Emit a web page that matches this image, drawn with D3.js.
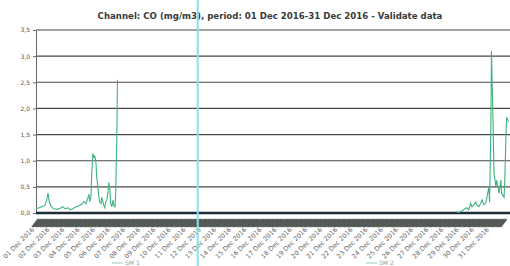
<!DOCTYPE html>
<html>
<head>
<meta charset="utf-8">
<script src="https://cdn.jsdelivr.net/npm/d3@7"></script>
<style>
  body { margin: 0; background: #fff; }
  svg { display: block; font-family: "DejaVu Sans", Verdana, sans-serif; }
</style>
</head>
<body>
<div id="chart"></div>
<script>
// chart values
var title = "Channel: CO (mg/m3), period: 01 Dec 2016-31 Dec 2016 - Validate data";
var yTicks = [0, 0.5, 1, 1.5, 2, 2.5, 3, 3.5];
var yTickLabels = ["0,0", "0,5", "1,0", "1,5", "2,0", "2,5", "3,0", "3,5"];
var seriesNames = ["SM 1", "SM 2"];

// hours since 01 Dec 2016 00:00
var sm1Hours = [0, 5, 9, 14, 17, 19, 21, 24, 28, 33, 38, 43, 46, 51, 54, 58, 63, 68, 73, 76, 79, 82, 84, 85, 87, 88, 90, 92, 93, 95, 96, 98, 99, 101, 103, 104, 106, 107, 109, 110, 112, 114, 115, 117, 118, 120, 122, 123, 125, 126, 128, 129];
var sm1Values = [0.08, 0.1, 0.12, 0.14, 0.25, 0.38, 0.22, 0.12, 0.08, 0.07, 0.09, 0.12, 0.08, 0.1, 0.06, 0.08, 0.12, 0.14, 0.17, 0.22, 0.18, 0.28, 0.36, 0.22, 0.3, 0.7, 1.14, 1.05, 1.1, 0.95, 0.7, 0.5, 0.35, 0.2, 0.18, 0.3, 0.22, 0.15, 0.1, 0.2, 0.25, 0.4, 0.58, 0.45, 0.2, 0.12, 0.25, 0.15, 0.12, 0.3, 1.5, 2.55];

var sm2Hours = [666, 669, 674, 679, 682, 685, 688, 690, 693, 696, 698, 701, 704, 706, 709, 712, 714, 717, 718, 720, 721, 723, 725, 728, 729, 733, 736, 737, 741, 742, 744, 745, 748];
var sm2Values = [0.02, 0.01, 0.04, 0.08, 0.1, 0.06, 0.19, 0.12, 0.15, 0.21, 0.15, 0.12, 0.19, 0.25, 0.16, 0.19, 0.31, 0.5, 0.2, 1.6, 3.1, 2.0, 0.76, 0.5, 0.63, 0.38, 0.63, 0.38, 0.3, 0.6, 1.5, 1.83, 1.75];

// cyan scan line, hours since start
var markerHour = 256;

window.onload = function() {
    drawchart();
};

function drawchart() {
    var width = 510;
    var height = 266;
    var padding = {top: 30, bottom: 53, left: 36, right: 4};
    var start = Date.UTC(2016, 11, 1);
    var end = Date.UTC(2017, 0, 1);

    function hourdate(h) {
        return new Date(start + h * 3600 * 1000);
    }

    var xscale = d3.scaleUtc()
        .domain([new Date(start), new Date(end)])
        .range([padding.left, width - padding.right]);

    var yscale = d3.scaleLinear()
        .domain([0, 3.5])
        .range([height - padding.bottom, padding.top]);

    var svg = d3.select("#chart").append("svg")
        .attr("width", width).attr("height", height);

    // title
    svg.append("text")
        .text(title)
        .attr("x", 270).attr("y", 19)
        .attr("text-anchor", "middle")
        .style("font-size", "8.6px")
        .style("font-weight", "bold")
        .style("fill", "#3a3a3a");

    // grid lines
    svg.selectAll(".grid").data(yTicks.slice(1)).enter().append("line")
        .attr("class", "grid")
        .attr("x1", padding.left).attr("x2", width)
        .attr("y1", function(d) { return yscale(d); })
        .attr("y2", function(d) { return yscale(d); })
        .style("stroke", "#484848")
        .style("stroke-width", 1.15);

    // y axis
    var yaxis = d3.axisLeft(yscale)
        .tickValues(yTicks)
        .tickSize(3)
        .tickFormat(function(d, i) { return yTickLabels[i]; });
    var yg = svg.append("g")
        .attr("transform", "translate(" + padding.left + ",0)")
        .call(yaxis);
    yg.select(".domain").style("stroke", "#666");
    yg.selectAll(".tick line").style("stroke", "#666");
    yg.selectAll(".tick text")
        .style("font-size", "6px")
        .style("fill", "#555")
        .style("font-family", "DejaVu Sans, sans-serif");

    // dense hour ticks under the axis (dark band)
    var hours = d3.utcHour.every(2).range(new Date(start), new Date(end));
    svg.append("g").selectAll("line").data(hours).enter().append("line")
        .attr("x1", function(d) { return xscale(d) + 2; })
        .attr("x2", function(d) { return xscale(d) - 4; })
        .attr("y1", height - padding.bottom + 6)
        .attr("y2", height - padding.bottom + 14)
        .style("stroke", "#2e3530")
        .style("stroke-width", 1.3)
        .style("opacity", 0.75);

    // x axis with day labels
    var days = d3.utcDay.range(new Date(start), new Date(end));
    var xaxis = d3.axisBottom(xscale)
        .tickValues(days)
        .tickSize(0)
        .tickFormat(d3.utcFormat("%d %b %Y"));
    var xg = svg.append("g")
        .attr("transform", "translate(0," + (height - padding.bottom) + ")")
        .call(xaxis);
    xg.select(".domain").remove();
    xg.selectAll(".tick text")
        .attr("text-anchor", "end")
        .attr("dx", 0).attr("dy", 0)
        .attr("transform", "translate(-4,15) rotate(-45)")
        .style("font-size", "6.4px")
        .style("fill", "#666")
        .style("font-family", "DejaVu Sans, sans-serif");

    // zero line
    svg.append("line")
        .attr("x1", padding.left).attr("x2", width)
        .attr("y1", yscale(0)).attr("y2", yscale(0))
        .style("stroke", "#1d2a38")
        .style("stroke-width", 2.3);

    // series lines
    var line = d3.line()
        .x(function(d) { return xscale(hourdate(d[0])); })
        .y(function(d) { return yscale(d[1]); });

    var sm1 = d3.zip(sm1Hours, sm1Values);
    var sm2 = d3.zip(sm2Hours, sm2Values);

    svg.append("path").datum(sm1)
        .attr("d", line)
        .style("fill", "none")
        .style("stroke", "#3fb37e")
        .style("stroke-width", 1.1);

    svg.append("path").datum(sm2)
        .attr("d", line)
        .style("fill", "none")
        .style("stroke", "#3fb37e")
        .style("stroke-width", 1.1);

    // cyan scan line
    svg.append("line")
        .attr("x1", xscale(hourdate(markerHour))).attr("x2", xscale(hourdate(markerHour)))
        .attr("y1", 0).attr("y2", height)
        .style("stroke", "#7fe3f2")
        .style("stroke-width", 2);

    // legend
    var legendx = [112, 366];
    seriesNames.forEach(function(name, i) {
        svg.append("line")
            .attr("x1", legendx[i]).attr("x2", legendx[i] + 11)
            .attr("y1", 263).attr("y2", 263)
            .style("stroke", "#8fcfb0")
            .style("stroke-width", 1);
        svg.append("text")
            .text(name)
            .attr("x", legendx[i] + 13).attr("y", 265)
            .style("font-size", "6px")
            .style("fill", "#999");
    });
}
</script>
</body>
</html>
